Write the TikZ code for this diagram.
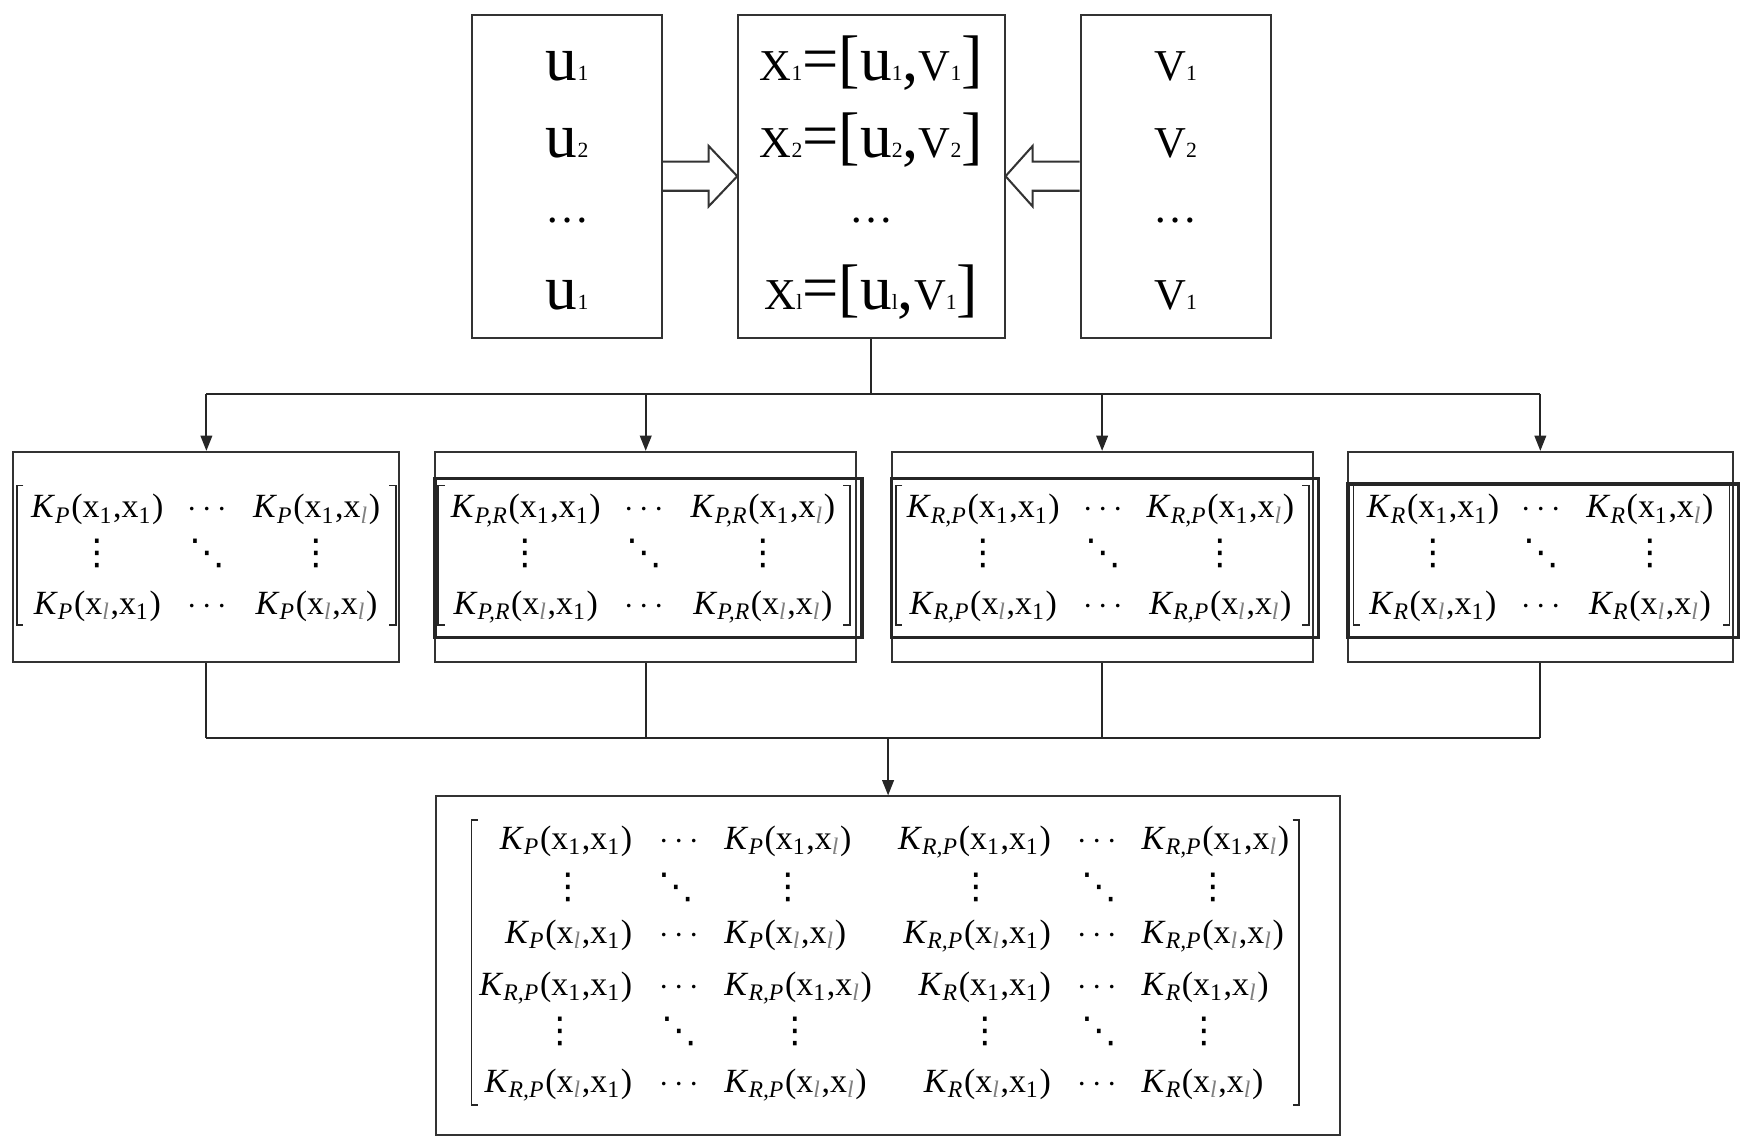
\documentclass[tikz,border=0pt]{standalone}
\usepackage{fontspec}
\setmainfont{Liberation Serif}
\newfontfamily\djv{DejaVu Sans}
\usetikzlibrary{arrows.meta,calc,fit}

\newcommand\Ks[1]{\textit{K}\textsubscript{\textit{#1}}}
\newcommand\xo{x\textsubscript{1}}
\newcommand\xl{x\textsubscript{\textcolor{black!50}{\textit{l}}}}
\newcommand\Ent[3]{\Ks{#1}(#2,#3)}
\newcommand\BigU[1]{{\fontsize{18.7}{19}\selectfont u}{\fontsize{6.4}{7}\selectfont #1}}
\newcommand\CapS[2]{{\fontsize{13}{14}\selectfont #1}{\fontsize{6.4}{7}\selectfont #2}}
\newcommand\Br[1]{{\fontsize{19}{20}\selectfont #1}}
\newcommand\Dts{{\fontsize{13}{14}\selectfont …}}
\newcommand\Vd{{\djv\fontsize{10.5}{11}\selectfont ⋮}}
\newcommand\Dd{{\djv\fontsize{10.5}{11}\selectfont ⋱}}
\newcommand\Cd{$\cdots$}

\tikzset{
  box/.style={draw=black!80, line width=0.6pt, inner sep=0pt},
  inbox/.style={draw=black!85, line width=1pt, inner sep=0pt},
  ln/.style={draw=black!85, line width=0.6pt},
  arr/.style={ln, -{Triangle[length=4.5pt,width=3.4pt]}},
  hollow/.style={draw=black!80, line width=0.6pt, fill=white, line join=miter},
  mt/.style={font=\fontsize{10}{12}\selectfont, inner sep=0pt, anchor=base},
  dt/.style={inner sep=0pt, anchor=center},
  tt/.style={inner sep=0pt, anchor=base},
  brk/.style={draw=black!85, line width=0.5pt},
}

\newcommand\LBr[3]{\draw[brk] ({#1+6},#2) -- (#1,#2) -- (#1,#3) -- ({#1+6},#3);}
\newcommand\RBr[3]{\draw[brk] ({#1-6},#2) -- (#1,#2) -- (#1,#3) -- ({#1-6},#3);}

\newcommand\SmallMat[5]{%
  \node[mt] (#1a) at (#2,463) {\Ent{#5}{\xo}{\xo}};
  \node[mt] (#1b) at (#3,463) {\Cd};
  \node[mt] (#1c) at (#4,463) {\Ent{#5}{\xo}{\xl}};
  \node[dt] (#1d) at (#2,495) {\Vd};
  \node[dt] (#1e) at (#3,495) {\Dd};
  \node[dt] (#1f) at (#4,495) {\Vd};
  \node[mt] (#1g) at (#2,549) {\Ent{#5}{\xl}{\xo}};
  \node[mt] (#1h) at (#3,549) {\Cd};
  \node[mt] (#1i) at (#4,549) {\Ent{#5}{\xl}{\xl}};
}

\begin{document}
\begin{tikzpicture}[x=0.33pt,y=-0.33pt]
\useasboundingbox (0,0) rectangle (1568,1026);

% top boxes
\node[box, fit={(422,13)(592,302)}] (ub) {};
\node[box, fit={(660,13)(898,302)}] (xb) {};
\node[box, fit={(966,13)(1136,302)}] (vb) {};

\node[tt] (u1) at (507,72) {\BigU{1}};
\node[tt] (u2) at (507,141) {\BigU{2}};
\node[inner sep=0pt] (ud) at (507,197) {\Dts};
\node[tt] (ul) at (507,277) {\BigU{1}};

\node[tt] (x1) at (779,72) {\CapS{X}{1}\Br{=[}\BigU{1}\Br{,}\CapS{V}{1}\Br{]}};
\node[tt] (x2) at (779,141) {\CapS{X}{2}\Br{=[}\BigU{2}\Br{,}\CapS{V}{2}\Br{]}};
\node[inner sep=0pt] (xd) at (779,197) {\Dts};
\node[tt] (xl) at (779,277) {\CapS{X}{l}\Br{=[}\BigU{l}\Br{,}\CapS{V}{1}\Br{]}};

\node[tt] (v1) at (1051,72) {\CapS{V}{1}};
\node[tt] (v2) at (1051,141) {\CapS{V}{2}};
\node[inner sep=0pt] (vd) at (1051,197) {\Dts};
\node[tt] (vl) at (1051,277) {\CapS{V}{1}};

% hollow arrows
\draw[hollow] ($(ub.east)+(0,-13)$) -- ($(ub.east)+(40.6,-13)$) -- ($(ub.east)+(40.6,-27)$)
  -- (xb.west) -- ($(ub.east)+(40.6,27)$) -- ($(ub.east)+(40.6,13)$) -- ($(ub.east)+(0,13)$);
\draw[hollow] ($(vb.west)+(0,-13)$) -- ($(vb.west)+(-42,-13)$) -- ($(vb.west)+(-42,-27)$)
  -- (xb.east) -- ($(vb.west)+(-42,27)$) -- ($(vb.west)+(-42,13)$) -- ($(vb.west)+(0,13)$);

% second row boxes
\node[box, fit={(12,404)(357,592)}] (b1) {};
\node[box, fit={(389,404)(765.5,592)}] (b2) {};
\node[box, fit={(797,404)(1173.5,592)}] (b3) {};
\node[box, fit={(1205,404)(1549,592)}] (b4) {};

\node[inbox, fit={(389,427.5)(770.5,569.7)}] (i2) {};
\node[inbox, fit={(797,427.5)(1178.5,569.7)}] (i3) {};
\node[inbox, fit={(1205,432.6)(1554,569.7)}] (i4) {};

% top connectors
\coordinate (jt) at (779,352);
\coordinate (tl) at (b1.north |- jt);
\coordinate (tr) at (b4.north |- jt);
\draw[ln] (xb.south) -- (xb.south |- jt);
\draw[ln] (tl) -- (tr);
\draw[arr] (tl) -- (b1.north);
\draw[arr] (b2.north |- jt) -- (b2.north);
\draw[arr] (b3.north |- jt) -- (b3.north);
\draw[arr] (tr) -- (b4.north);

% small matrices
\SmallMat{ma}{87}{185}{283}{P}
\SmallMat{mb}{470}{576}{682}{P,R}
\SmallMat{mc}{879}{986}{1091}{R,P}
\SmallMat{md}{1281}{1378}{1475}{R}

\LBr{15}{434}{559}   \RBr{354}{434}{559}
\LBr{391.5}{434}{559} \RBr{760}{434}{559}
\LBr{800.7}{434}{559} \RBr{1170}{434}{559}
\LBr{1210}{434}{559}  \RBr{1546}{434}{559}

% bottom box
\node[box, fit={(389.8,712)(1198,1015)}] (bb) {};
\coordinate (jb) at (0,660);
\draw[ln] (b1.south) -- (b1.south |- jb);
\draw[ln] (b2.south) -- (b2.south |- jb);
\draw[ln] (b3.south) -- (b3.south |- jb);
\draw[ln] (b4.south) -- (b4.south |- jb);
\draw[ln] (b1.south |- jb) -- (b4.south |- jb);
\draw[arr] (bb.north |- jb) -- (bb.north);

% big matrix
% row 1
\node[mt, anchor=base east] (n11) at (565.7,759) {\Ent{P}{\xo}{\xo}};
\node[mt] (n12) at (607,759) {\Cd};
\node[mt, anchor=base west] (n13) at (647,759) {\Ent{P}{\xo}{\xl}};
\node[mt, anchor=base east] (n14) at (940,759) {\Ent{R,P}{\xo}{\xo}};
\node[mt] (n15) at (981,759) {\Cd};
\node[mt, anchor=base west] (n16) at (1020,759) {\Ent{R,P}{\xo}{\xl}};
% row 2
\node[dt] (n21) at (508,793) {\Vd};
\node[dt] (n22) at (605,793) {\Dd};
\node[dt] (n23) at (705,793) {\Vd};
\node[dt] (n24) at (873,793) {\Vd};
\node[dt] (n25) at (983,793) {\Dd};
\node[dt] (n26) at (1085,793) {\Vd};
% row 3
\node[mt, anchor=base east] (n31) at (565.7,843) {\Ent{P}{\xl}{\xo}};
\node[mt] (n32) at (607,843) {\Cd};
\node[mt, anchor=base west] (n33) at (647,843) {\Ent{P}{\xl}{\xl}};
\node[mt, anchor=base east] (n34) at (940,843) {\Ent{R,P}{\xl}{\xo}};
\node[mt] (n35) at (981,843) {\Cd};
\node[mt, anchor=base west] (n36) at (1020,843) {\Ent{R,P}{\xl}{\xl}};
% row 4
\node[mt, anchor=base east] (n41) at (565.7,890) {\Ent{R,P}{\xo}{\xo}};
\node[mt] (n42) at (607,890) {\Cd};
\node[mt, anchor=base west] (n43) at (647,890) {\Ent{R,P}{\xo}{\xl}};
\node[mt, anchor=base east] (n44) at (940,890) {\Ent{R}{\xo}{\xo}};
\node[mt] (n45) at (981,890) {\Cd};
\node[mt, anchor=base west] (n46) at (1020,890) {\Ent{R}{\xo}{\xl}};
% row 5
\node[dt] (n51) at (501,922) {\Vd};
\node[dt] (n52) at (607,922) {\Dd};
\node[dt] (n53) at (711,922) {\Vd};
\node[dt] (n54) at (881,922) {\Vd};
\node[dt] (n55) at (983,922) {\Dd};
\node[dt] (n56) at (1077,922) {\Vd};
% row 6
\node[mt, anchor=base east] (n61) at (565.7,977) {\Ent{R,P}{\xl}{\xo}};
\node[mt] (n62) at (607,977) {\Cd};
\node[mt, anchor=base west] (n63) at (647,977) {\Ent{R,P}{\xl}{\xl}};
\node[mt, anchor=base east] (n64) at (940,977) {\Ent{R}{\xl}{\xo}};
\node[mt] (n65) at (981,977) {\Cd};
\node[mt, anchor=base west] (n66) at (1020,977) {\Ent{R}{\xl}{\xl}};

\LBr{421.5}{733}{988} \RBr{1161.5}{733}{988}
\end{tikzpicture}
\end{document}
